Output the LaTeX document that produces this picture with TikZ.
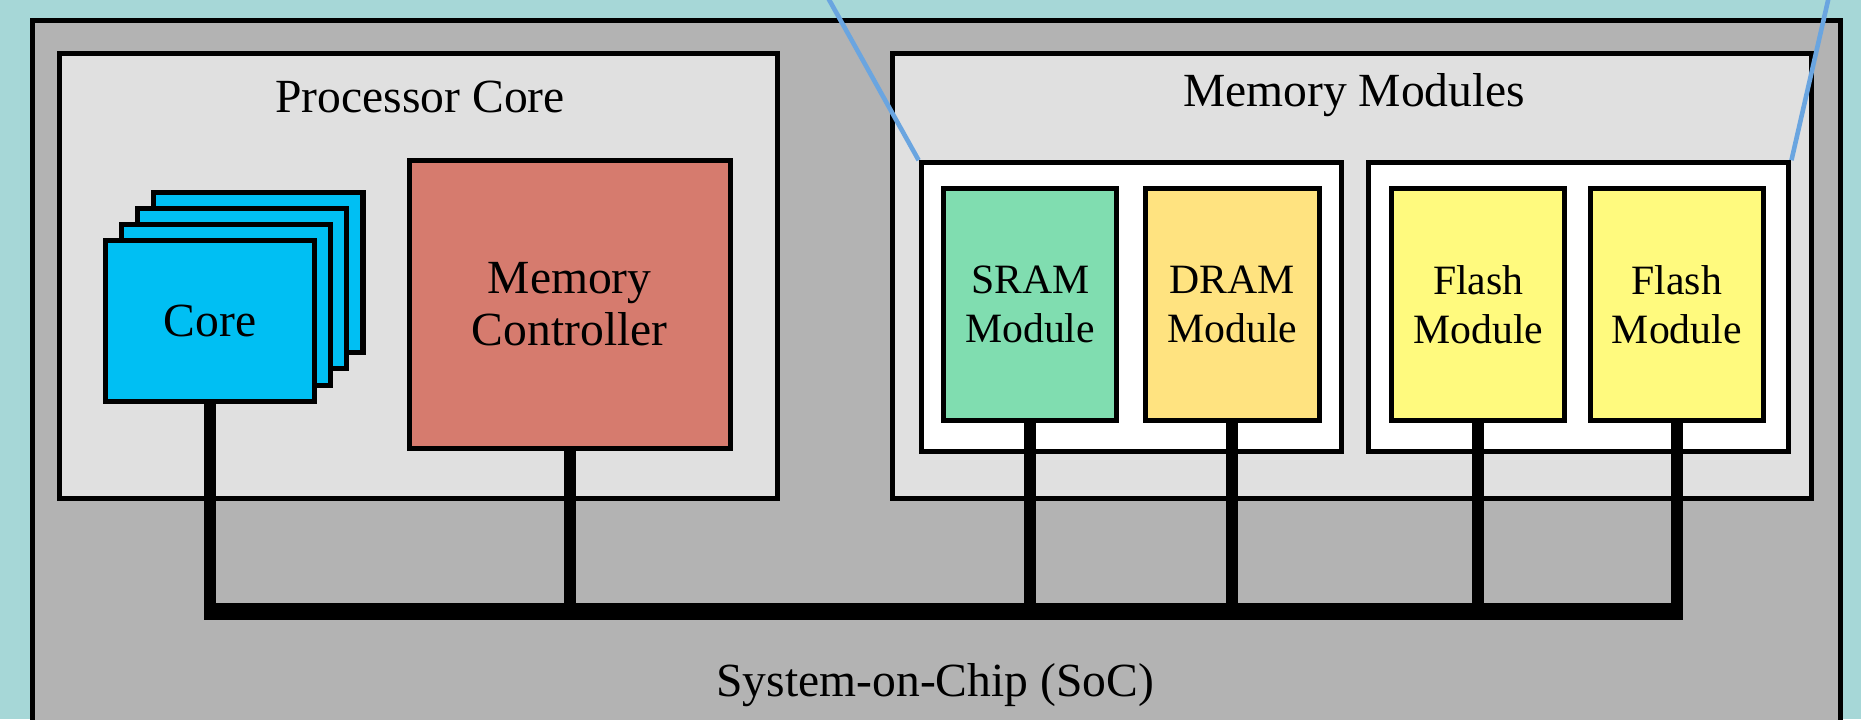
\documentclass[tikz,border=0pt]{standalone}
\usepackage{fontspec}
\setmainfont{Liberation Serif}
\usepackage{xcolor}
\usetikzlibrary{positioning}

\definecolor{bgteal}{HTML}{A6D7D7}
\definecolor{socgray}{HTML}{B3B3B3}
\definecolor{grouplight}{HTML}{E0E0E0}
\definecolor{coreblue}{HTML}{00BFF3}
\definecolor{ctrlred}{HTML}{D67B6E}
\definecolor{sramgreen}{HTML}{80DDB0}
\definecolor{dramorange}{HTML}{FFE380}
\definecolor{flashyellow}{HTML}{FFFA7E}
\definecolor{zoomblue}{HTML}{6AA5E0}

\begin{document}
\begin{tikzpicture}[x=0.01cm, y=-0.01cm,
  box/.style={draw, line width=1.2pt, inner sep=0pt, anchor=north west},
  lbl/.style={font=\fontsize{11.4}{13}\selectfont},
  corebox/.style={draw, fill=coreblue, line width=1.2pt, minimum width=1.76cm, minimum height=1.35cm, lbl},
  mod/.style={draw, line width=1.2pt, minimum width=1.46cm, minimum height=1.95cm, align=center, font=\fontsize{10}{11.7}\selectfont},
  wire/.style={line width=2.8pt},
  bus/.style={line width=4pt, shorten <=-1.4pt, shorten >=-1.4pt},
  zoomline/.style={draw=zoomblue, line width=1.1pt}]

  \useasboundingbox[fill=bgteal] (0,0) rectangle (1568,606);

  % chip
  \node[box, fill=socgray, minimum width=15.23cm, minimum height=6.2cm] (soc) at (25,15) {};
  \node[lbl] (soclabel) at (788,577) {System-on-Chip (SoC)};

  % processor side
  \node[box, fill=grouplight, minimum width=6.05cm, minimum height=3.75cm] (proc) at (48,43) {};
  \node[lbl] (proctitle) at (354,82) {Processor Core};
  \foreach \i in {3,2,1}
    \node[corebox] (core\i) at ({177+13.6*\i},{270.5-13.6*\i}) {};
  \node[corebox] (core) at (177,270.5) {Core};
  \node[draw, fill=ctrlred, line width=1.2pt, minimum width=2.70cm, minimum height=2.43cm,
        align=center, font=\fontsize{11.4}{12.5}\selectfont] (memctrl) at (480,256.5) {Memory\\Controller};

  % memory side
  \node[box, fill=grouplight, minimum width=7.74cm, minimum height=3.75cm] (mem) at (750,43) {};
  \node[lbl] (memtitle) at (1141,80) {Memory Modules};
  \node[box, fill=white, minimum width=3.54cm, minimum height=2.43cm] (grpA) at (774,135) {};
  \node[box, fill=white, minimum width=3.54cm, minimum height=2.43cm] (grpB) at (1151,135) {};
  \node[mod, fill=sramgreen] (sram) at (868,256.5) {SRAM\\Module};
  \node[mod, fill=dramorange, right=0.2cm of sram] (dram) {DRAM\\Module};
  \node[mod, fill=flashyellow] (flashA) at (1245.5,256.5) {Flash\\Module};
  \node[mod, fill=flashyellow, right=0.17cm of flashA] (flashB) {Flash\\Module};

  % bus
  \coordinate (busy) at (0,515);
  \foreach \n in {core,memctrl,sram,dram,flashA,flashB}
    \draw[wire] (\n.south) -- (\n.south |- busy);
  \draw[bus] (core.south |- busy) -- (flashB.south |- busy);

  % zoom lines
  \coordinate (zoomA) at (697,-3);
  \coordinate (zoomB) at (1541,-3);
  \draw[zoomline] (zoomA) -- (grpA.north west);
  \draw[zoomline] (zoomB) -- (grpB.north east);
\end{tikzpicture}
\end{document}
